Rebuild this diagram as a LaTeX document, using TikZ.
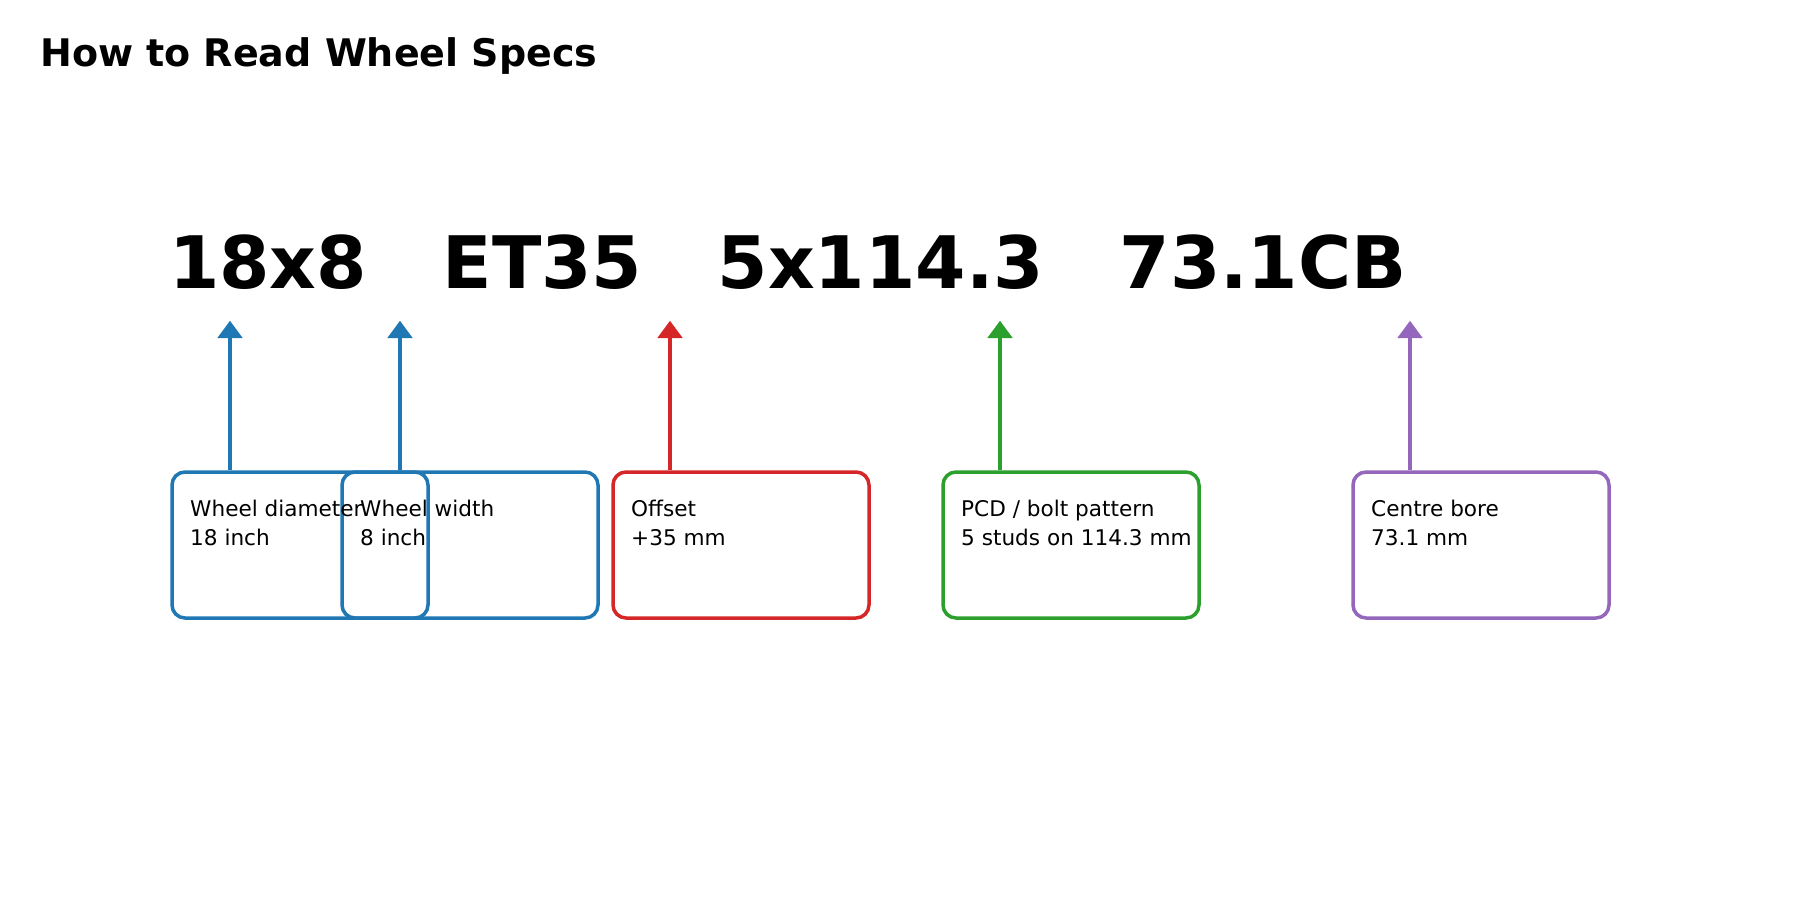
\documentclass[tikz,border=0pt]{standalone}
\usepackage{fontspec}
\setmainfont{DejaVu Sans}
\usetikzlibrary{arrows.meta}
\definecolor{tabblue}{HTML}{1F77B4}
\definecolor{tabred}{HTML}{D62728}
\definecolor{tabgreen}{HTML}{2CA02C}
\definecolor{tabpurple}{HTML}{9467BD}
\tikzset{
  specbox/.style={draw=#1, line width=3.5pt, rounded corners=13pt, minimum width=256pt, minimum height=146pt, inner sep=0pt},
  spectext/.style={anchor=base west, inner sep=0pt, align=left, font=\fontsize{21.6}{29}\selectfont},
  specarrow/.style={draw=#1, line width=4pt, -{Triangle[width=24.3pt,length=17.3pt]}, #1},
}
\begin{document}
\begin{tikzpicture}[x=1pt,y=-1pt]
\useasboundingbox (0,0) rectangle (1800,900);
\node[anchor=base west, inner sep=0pt, font=\bfseries\fontsize{38}{44}\selectfont] (title) at (40,66.7) {How to Read Wheel Specs};
\node[anchor=base west, inner sep=0pt, font=\bfseries\fontsize{72.4}{80}\selectfont] (spec) at (169,288) {18x8\ \ \ ET35\ \ \ 5x114.3\ \ \ 73.1CB};
% boxes
\node[specbox=tabblue] (b1) at (300,545) {};
\node[specbox=tabblue] (b2) at (470,545) {};
\node[specbox=tabred] (b3) at (741,545) {};
\node[specbox=tabgreen] (b4) at (1071,545) {};
\node[specbox=tabpurple] (b5) at (1481,545) {};
% texts
\node[spectext] (l1) at (190,545) {Wheel diameter\\18 inch};
\node[spectext] (l2) at (360,545) {Wheel width\\8 inch};
\node[spectext] (l3) at (631,545) {Offset\\+35 mm};
\node[spectext] (l4) at (961,545) {PCD / bolt pattern\\5 studs on 114.3 mm};
\node[spectext] (l5) at (1371,545) {Centre bore\\73.1 mm};
% arrow tips
\coordinate (t1) at (230,320.7);
\coordinate (t2) at (400,320.7);
\coordinate (t3) at (670,320.7);
\coordinate (t4) at (1000,320.7);
\coordinate (t5) at (1410,320.7);
\draw[specarrow=tabblue] (b1.north -| t1) -- (t1);
\draw[specarrow=tabblue] (b2.north -| t2) -- (t2);
\draw[specarrow=tabred] (b3.north -| t3) -- (t3);
\draw[specarrow=tabgreen] (b4.north -| t4) -- (t4);
\draw[specarrow=tabpurple] (b5.north -| t5) -- (t5);
\end{tikzpicture}
\end{document}
